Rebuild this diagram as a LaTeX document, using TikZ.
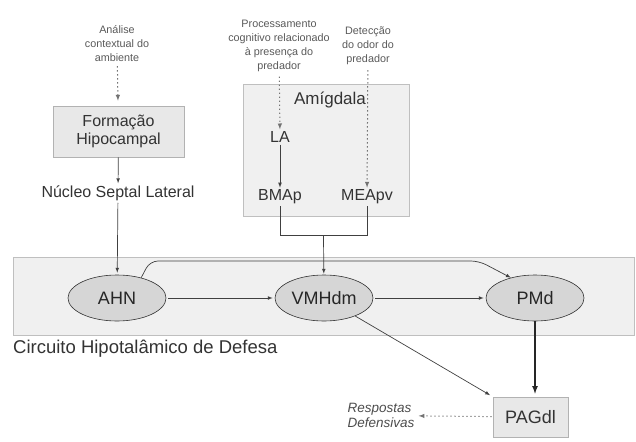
\documentclass[tikz,border=0pt]{standalone}
\usepackage{fontspec}
\setmainfont{Liberation Sans}
\usetikzlibrary{arrows}
\usetikzlibrary{shapes.geometric}
\usetikzlibrary{calc}

\begin{document}
\begin{tikzpicture}[x=1pt, y=-1pt, >=latex,
    region/.style={draw=black!25, fill=black!6, line width=0.6pt},
    box/.style={draw=black!30, fill=black!9, line width=0.6pt, align=center, text=black!80},
    nucleus/.style={ellipse, draw=black!80, fill=black!16, line width=0.6pt, minimum width=98pt, minimum height=46pt, inner sep=0pt, text=black!85, font=\fontsize{18}{20}\selectfont},
    nametext/.style={inner sep=0pt, align=center, text=black!80, font=\fontsize{16}{18.5}\selectfont},
    note/.style={inner sep=0pt, align=center, text=black!65, font=\fontsize{10.8}{14}\selectfont},
    link/.style={->, draw=black!75, line width=0.7pt},
    wire/.style={draw=black!75, line width=0.7pt},
    hint/.style={->, draw=black!55, line width=1pt, dash pattern=on 1.4pt off 2.6pt}]
    \useasboundingbox (0,0) rectangle (636,441);

    % draw background regions
    \node[region, minimum width=621pt, minimum height=78pt] (circuit) at (323.5,296) {};
    \node[region, minimum width=166pt, minimum height=132pt] (amig) at (326,150) {};
    \node[nametext, anchor=west, font=\fontsize{18.5}{20}\selectfont] (circlbl) at (13,349) {Circuito Hipotalâmico de Defesa};
    \node[nametext, font=\fontsize{17}{19}\selectfont] (amiglbl) at (330,100) {Amígdala};

    % draw input notes
    \node[note] (analise) at (117,44) {Análise\\contextual do\\ambiente};
    \node[note] (proc) at (279,45.5) {Processamento\\cognitivo relacionado\\à presença do\\predador};
    \node[note] (detec) at (368,46) {Detecção\\do odor do\\predador};

    % draw boxes and nuclei
    \node[box, minimum width=131pt, minimum height=51pt, font=\fontsize{16}{18.5}\selectfont] (hipo) at (118.5,131.5) {Formação\\Hipocampal};
    \node[nametext] (septal) at (118,193) {Núcleo Septal Lateral};
    \node[nametext] (la) at (280,137) {LA};
    \node[nametext] (bma) at (280,197) {BMAp};
    \node[nametext] (mea) at (367,197) {MEApv};
    \node[nucleus] (ahn) at (117,298) {AHN};
    \node[nucleus] (vmh) at (324,298) {VMHdm};
    \node[nucleus] (pmd) at (535,298) {PMd};
    \node[box, minimum width=75pt, minimum height=40pt, font=\fontsize{18}{20}\selectfont] (pag) at (530.5,417) {PAGdl};
    \node[inner sep=0pt, align=left, text=black!70, font=\fontsize{13.5}{15}\selectfont\itshape] (resp) at (381,415.5) {Respostas\\Defensivas};

    % draw dotted inputs
    \draw[hint, shorten <=4pt, shorten >=5pt] (analise) -- (hipo);
    \draw[hint, shorten <=5pt, shorten >=2pt] (proc) -- (la);
    \draw[hint, shorten <=5pt, shorten >=2pt] (detec) -- (mea);
    \draw[hint, shorten <=1pt, shorten >=4pt] (pag) -- (resp);

    % draw solid connections
    \draw[link, shorten >=2pt] (hipo) -- (septal);
    \draw[link, shorten <=2pt, shorten >=2pt] (septal) -- (ahn);
    \draw[link, shorten <=2pt, shorten >=2pt] (la) -- (bma);
    \coordinate (join) at ($(bma.south)!0.5!(mea.south) + (0,31)$);
    \draw[wire, shorten <=2pt] (bma.south) |- (join);
    \draw[wire, shorten <=2pt] (mea.south) |- (join);
    \draw[link, shorten >=1pt] (join) -- (vmh);
    \draw[link, rounded corners=8pt] (ahn.40) -- (150,261) -- (479,261) -- (pmd.140);
    \draw[link, shorten <=2pt, shorten >=2pt] (ahn) -- (vmh);
    \draw[link, shorten <=2pt, shorten >=2pt] (vmh) -- (pmd);
    \draw[link, shorten >=3pt] (vmh.-30) -- (pag.north west);
    \draw[->, draw=black!85, line width=1.6pt, shorten >=3pt] (pmd.south) -- (pmd.south |- pag.north);
\end{tikzpicture}
\end{document}
